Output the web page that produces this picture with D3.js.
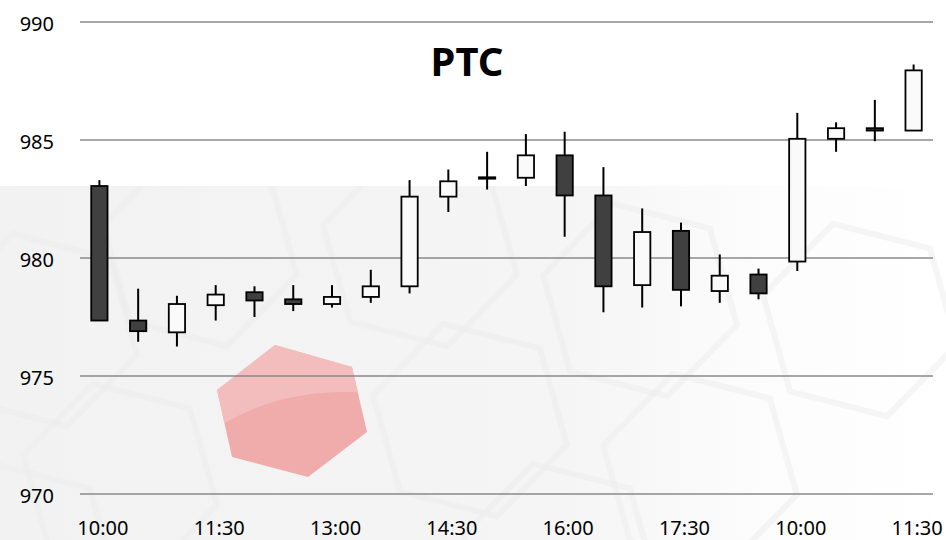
<!DOCTYPE html>
<html>
<head>
<meta charset="utf-8">
<script src="https://cdn.jsdelivr.net/npm/d3@7"></script>
<style>
  html, body { margin: 0; padding: 0; background: #fff; }
  #chart { width: 946px; height: 540px; }
  text { font-family: "Noto Sans", "Open Sans", sans-serif; }
</style>
</head>
<body>
<div id="chart"></div>
<script>
// ===== データ =====
const times = ["10:00", "10:30", "11:00", "11:30", "12:00", "12:30", "13:00", "13:30",
  "14:00", "14:30", "15:00", "15:30", "16:00", "16:30", "17:00", "17:30",
  "18:00", "18:30", "10:00", "10:30", "11:00", "11:30"];
const open  = [983.05, 977.35, 976.85, 978.00, 978.55, 978.25, 978.05, 978.35,
  978.80, 982.60, 983.42, 983.40, 984.35, 982.65, 978.85, 981.15,
  978.60, 979.30, 979.85, 985.05, 985.50, 985.40];
const high  = [983.30, 978.70, 978.40, 978.85, 978.80, 978.85, 978.85, 979.50,
  983.30, 983.75, 984.50, 985.25, 985.35, 983.85, 982.10, 981.50,
  980.15, 979.55, 986.15, 985.75, 986.70, 988.20];
const low   = [977.35, 976.45, 976.25, 977.35, 977.50, 977.75, 977.90, 978.10,
  978.50, 981.95, 982.90, 983.05, 980.90, 977.70, 977.90, 977.95,
  978.10, 978.25, 979.45, 984.50, 984.95, 985.40];
const close = [977.35, 976.90, 978.05, 978.45, 978.20, 978.05, 978.35, 978.80,
  982.60, 983.25, 983.36, 984.35, 982.65, 978.80, 981.10, 978.65,
  979.25, 978.50, 985.05, 985.50, 985.40, 987.95];
const yTicks = [970, 975, 980, 985, 990];
const title = "PTC";

(function () {
  const W = 946, H = 540;
  const PLOT = { left: 80, right: 933, top: 22, bottom: 494 };

  const svg = d3.select('#chart').append('svg')
    .attr('width', W).attr('height', H);

  // ---- 背景（薄いグレーと六角形の模様） ----
  const defs = svg.append('defs');
  const grad = defs.append('linearGradient').attr('id', 'bg').attr('x1', 0).attr('x2', 1).attr('y1', 0).attr('y2', 0);
  grad.append('stop').attr('offset', '0%').attr('stop-color', '#f2f2f2');
  grad.append('stop').attr('offset', '60%').attr('stop-color', '#f5f5f5');
  grad.append('stop').attr('offset', '80%').attr('stop-color', '#fcfcfc');
  grad.append('stop').attr('offset', '100%').attr('stop-color', '#ffffff');
  defs.append('clipPath').attr('id', 'bgclip')
    .append('rect').attr('x', 0).attr('y', 186).attr('width', W).attr('height', H - 186);

  svg.append('rect').attr('width', W).attr('height', H).attr('fill', '#fff');
  svg.append('rect').attr('x', 0).attr('y', 186).attr('width', W).attr('height', H - 186)
    .attr('fill', 'url(#bg)');

  const hexR = 100;
  const hexPts = (cx, cy, r, rot) => d3.range(6).map(i => {
    const a = rot + i * Math.PI / 3;
    return [cx + r * Math.cos(a), cy + r * Math.sin(a)];
  });
  const hexCenters = [[40, 330], [120, 480], [200, 250], [420, 250], [470, 420],
    [640, 300], [700, 470], [860, 320], [560, 560], [20, 560]];
  svg.append('g').attr('clip-path', 'url(#bgclip)')
    .selectAll('polygon').data(hexCenters).join('polygon')
    .attr('points', d => hexPts(d[0], d[1], hexR, 0.25).map(p => p.join(',')).join(' '))
    .attr('fill', 'none').attr('stroke', '#ebebeb').attr('stroke-width', 6).attr('opacity', 0.45);

  // ピンクの六角形
  const pink = [[275, 345], [352, 367], [367, 432], [308, 477], [232, 457], [217, 390]];
  svg.append('polygon').attr('points', pink.map(p => p.join(',')).join(' '))
    .attr('fill', '#f0abab');
  defs.append('clipPath').attr('id', 'pinkclip')
    .append('polygon').attr('points', pink.map(p => p.join(',')).join(' '));
  svg.append('path').attr('clip-path', 'url(#pinkclip)')
    .attr('d', 'M200,440 Q270,385 370,393 L370,330 L200,330 Z')
    .attr('fill', '#f5c2c2').attr('opacity', 0.8);

  // ---- スケール ----
  const idx = d3.range(times.length);
  const x = d3.scalePoint().domain(idx).range([PLOT.left, PLOT.right]).padding(0.5);
  const y = d3.scaleLinear().domain([970, 990]).range([PLOT.bottom, PLOT.top]);
  const bodyW = x.step() * 0.42;

  // ---- グリッド線 ----
  svg.append('g').selectAll('line').data(yTicks).join('line')
    .attr('x1', PLOT.left).attr('x2', PLOT.right)
    .attr('y1', d => y(d)).attr('y2', d => y(d))
    .attr('stroke', '#8a8a8a').attr('stroke-width', 1.7);

  // 縦軸ラベル
  const yAxis = d3.axisLeft(y).tickValues(yTicks).tickSize(0).tickPadding(0);
  svg.append('g').attr('transform', 'translate(54,2)').call(yAxis)
    .call(g => g.select('.domain').remove())
    .selectAll('text').attr('fill', '#000').style('font-size', '20px');

  // 横軸ラベル（3本ごと）
  const xAxis = d3.axisBottom(x).tickValues(idx.filter(i => i % 3 === 0))
    .tickFormat(i => times[i]).tickSize(0).tickPadding(0);
  svg.append('g').attr('transform', 'translate(3,521)').call(xAxis)
    .call(g => g.select('.domain').remove())
    .selectAll('text').attr('fill', '#000').style('font-size', '20px');

  // ---- ローソク足 ----
  const candles = svg.append('g').selectAll('g.candle').data(idx).join('g').attr('class', 'candle');
  candles.append('line')
    .attr('x1', i => x(i)).attr('x2', i => x(i))
    .attr('y1', i => y(high[i])).attr('y2', i => y(low[i]))
    .attr('stroke', '#000').attr('stroke-width', 2);
  candles.append('rect')
    .attr('x', i => x(i) - bodyW / 2)
    .attr('y', i => y(Math.max(open[i], close[i])))
    .attr('width', bodyW)
    .attr('height', i => Math.max(1, Math.abs(y(open[i]) - y(close[i]))))
    .attr('fill', i => close[i] < open[i] ? '#404040' : '#fafafa')
    .attr('stroke', '#000').attr('stroke-width', 1.8);

  // タイトル
  svg.append('text').attr('x', 467).attr('y', 76).attr('text-anchor', 'middle')
    .style('font-size', '40px').style('font-weight', 'bold').text(title);
})();
</script>
</body>
</html>
